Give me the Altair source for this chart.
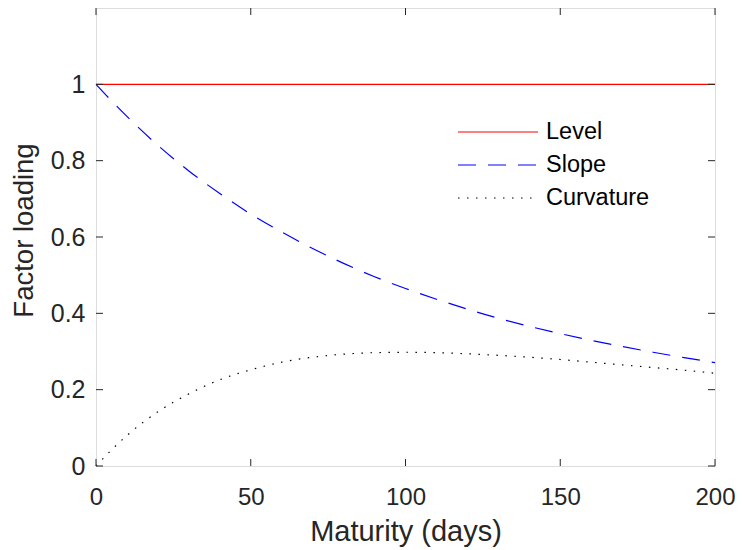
import altair as alt
import pandas as pd

# Maturity grid (days) and loadings
maturity = [0, 5, 10, 20, 30, 40, 50, 60, 70, 80, 90, 100, 110, 120, 130, 140, 150, 160, 170, 180, 190, 200]
level = [1.0] * len(maturity)
slope = [1.000, 0.957, 0.916, 0.840, 0.773, 0.714, 0.660, 0.613, 0.570, 0.531, 0.496, 0.465,
         0.437, 0.411, 0.387, 0.366, 0.347, 0.329, 0.313, 0.298, 0.284, 0.271]
curvature = [0.000, 0.042, 0.080, 0.142, 0.189, 0.226, 0.252, 0.272, 0.285, 0.293, 0.297, 0.298,
             0.297, 0.294, 0.290, 0.285, 0.279, 0.272, 0.265, 0.258, 0.251, 0.243]

series_names = ["Level", "Slope", "Curvature"]
series_colors = ["#ff0000", "#0000ff", "#000000"]
series_dashes = [[1, 0], [18, 12], [1.5, 7.5]]

x_ticks = [0, 50, 100, 150, 200]
y_ticks = [0, 0.2, 0.4, 0.6, 0.8, 1.0]

W, H = 619, 458
TL = 7
AX = "#262626"
FONT = "Liberation Sans"

rows = []
for name, vals in zip(series_names, [level, slope, curvature]):
    for m, v in zip(maturity, vals):
        rows.append({"maturity": m, "value": v, "series": name})
df = pd.DataFrame(rows)

xscale = alt.Scale(domain=[0, 200], nice=False, zero=False)
yscale = alt.Scale(domain=[0, 1.2], nice=False, zero=False)

lines = alt.Chart(df).mark_line(strokeWidth=1.2, interpolate="monotone").encode(
    x=alt.X("maturity:Q", scale=xscale,
            axis=alt.Axis(title="Maturity (days)", values=x_ticks, format="d", grid=False,
                          ticks=False, tickSize=0, domain=False, labelFontSize=24,
                          labelPadding=19, labelColor=AX, labelFont=FONT, labelFlush=False,
                          titleFontSize=29, titleFontWeight="normal", titleFont=FONT,
                          titleColor=AX, titleBaseline="alphabetic", titleY=74)),
    y=alt.Y("value:Q", scale=yscale,
            axis=alt.Axis(title="Factor loading", values=y_ticks, grid=False,
                          ticks=False, tickSize=0, domain=False, labelFontSize=25,
                          labelPadding=11, labelColor=AX, labelFont=FONT, labelFlush=False,
                          labelExpr="datum.value == 0 ? '0' : datum.value == 1 ? '1' : format(datum.value, '.1f')",
                          titleFontSize=27.5, titleFontWeight="normal", titleFont=FONT,
                          titleColor=AX, titleBaseline="alphabetic", titleX=-64, titleY=222,
                          titleAngle=-90, titleAlign="center")),
    color=alt.Color("series:N", scale=alt.Scale(domain=series_names, range=series_colors),
                    legend=alt.Legend(title=None, orient="none", legendX=361, legendY=107.5,
                                      symbolType="stroke", symbolSize=6400, symbolStrokeWidth=1.2,
                                      labelFontSize=23.5, labelFont=FONT, labelColor="#000000",
                                      labelOffset=7, rowPadding=0, clipHeight=33, padding=0)),
    strokeDash=alt.StrokeDash("series:N", scale=alt.Scale(domain=series_names, range=series_dashes),
                              legend=None),
)

xt = pd.DataFrame({"v": x_ticks})
yt = pd.DataFrame({"v": y_ticks})

tick_bottom = alt.Chart(xt).mark_rule(color=AX, strokeWidth=1).encode(
    x=alt.X("v:Q", scale=xscale), y=alt.value(H), y2=alt.value(H - TL))
tick_top = alt.Chart(xt).mark_rule(color=AX, strokeWidth=1).encode(
    x=alt.X("v:Q", scale=xscale), y=alt.value(0), y2=alt.value(TL))
tick_left = alt.Chart(yt).mark_rule(color=AX, strokeWidth=1).encode(
    y=alt.Y("v:Q", scale=yscale), x=alt.value(0), x2=alt.value(TL))
tick_right = alt.Chart(yt).mark_rule(color=AX, strokeWidth=1).encode(
    y=alt.Y("v:Q", scale=yscale), x=alt.value(W), x2=alt.value(W - TL))

chart = alt.layer(lines, tick_bottom, tick_top, tick_left, tick_right).properties(
    width=W, height=H,
    autosize=alt.AutoSizeParams(type="none"),
    padding={"left": 88, "top": 0, "right": 20, "bottom": 84},
).configure_view(stroke=AX, strokeWidth=1.2).configure(background="white")

chart.save("out.html", embed_options={"renderer": "svg", "actions": False})
